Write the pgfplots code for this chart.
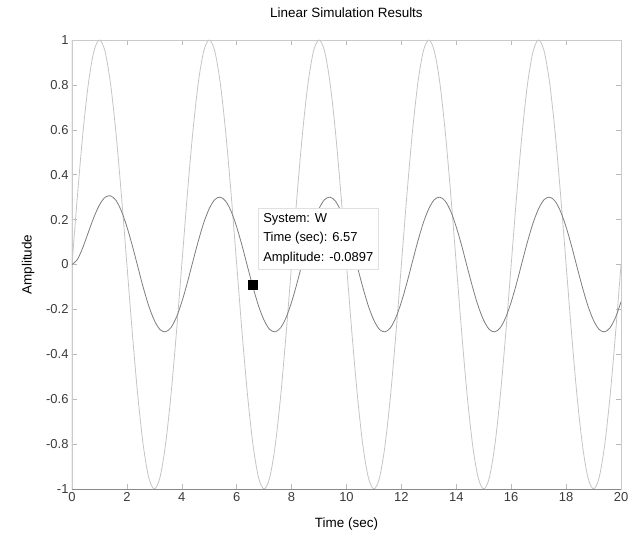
\documentclass[border=0pt]{standalone}
\usepackage{fontspec}
\setmainfont{Liberation Sans}
\usepackage{pgfplots}
\pgfplotsset{compat=1.18}
\usepackage{pgfplotstable}
\definecolor{inGray}{HTML}{C4C4C4}
\definecolor{outGray}{HTML}{7E7E7E}
\definecolor{axGray}{HTML}{8A8A8A}
\definecolor{tickText}{HTML}{3A3A3A}

% t  u (input)  y (response of W)
\pgfplotstableread{
t u y
0.0 0.000 0.000
0.2 0.309 0.023
0.4 0.588 0.077
0.6 0.809 0.145
0.8 0.951 0.211
1.0 1.000 0.265
1.2 0.951 0.299
1.4 0.809 0.306
1.6 0.588 0.286
1.8 0.309 0.238
2.0 0.000 0.168
2.2 -0.309 0.083
2.4 -0.588 -0.011
2.6 -0.809 -0.104
2.8 -0.951 -0.186
3.0 -1.000 -0.249
3.2 -0.951 -0.289
3.4 -0.809 -0.300
3.6 -0.588 -0.282
3.8 -0.309 -0.236
4.0 0.000 -0.167
4.2 0.309 -0.082
4.4 0.588 0.012
4.6 0.809 0.104
4.8 0.951 0.186
5.0 1.000 0.249
5.2 0.951 0.289
5.4 0.809 0.300
5.6 0.588 0.282
5.8 0.309 0.236
6.0 0.000 0.167
6.2 -0.309 0.082
6.4 -0.588 -0.012
6.6 -0.809 -0.104
6.8 -0.951 -0.186
7.0 -1.000 -0.249
7.2 -0.951 -0.289
7.4 -0.809 -0.300
7.6 -0.588 -0.282
7.8 -0.309 -0.236
8.0 0.000 -0.167
8.2 0.309 -0.082
8.4 0.588 0.012
8.6 0.809 0.104
8.8 0.951 0.186
9.0 1.000 0.249
9.2 0.951 0.289
9.4 0.809 0.300
9.6 0.588 0.282
9.8 0.309 0.236
10.0 0.000 0.167
10.2 -0.309 0.082
10.4 -0.588 -0.012
10.6 -0.809 -0.104
10.8 -0.951 -0.186
11.0 -1.000 -0.249
11.2 -0.951 -0.289
11.4 -0.809 -0.300
11.6 -0.588 -0.282
11.8 -0.309 -0.236
12.0 0.000 -0.167
12.2 0.309 -0.082
12.4 0.588 0.012
12.6 0.809 0.104
12.8 0.951 0.186
13.0 1.000 0.249
13.2 0.951 0.289
13.4 0.809 0.300
13.6 0.588 0.282
13.8 0.309 0.236
14.0 0.000 0.167
14.2 -0.309 0.082
14.4 -0.588 -0.012
14.6 -0.809 -0.104
14.8 -0.951 -0.186
15.0 -1.000 -0.249
15.2 -0.951 -0.289
15.4 -0.809 -0.300
15.6 -0.588 -0.282
15.8 -0.309 -0.236
16.0 0.000 -0.167
16.2 0.309 -0.082
16.4 0.588 0.012
16.6 0.809 0.104
16.8 0.951 0.186
17.0 1.000 0.249
17.2 0.951 0.289
17.4 0.809 0.300
17.6 0.588 0.282
17.8 0.309 0.236
18.0 0.000 0.167
18.2 -0.309 0.082
18.4 -0.588 -0.012
18.6 -0.809 -0.104
18.8 -0.951 -0.186
19.0 -1.000 -0.249
19.2 -0.951 -0.289
19.4 -0.809 -0.300
19.6 -0.588 -0.282
19.8 -0.309 -0.236
20.0 0.000 -0.167
}\simdata

\begin{document}
\begin{tikzpicture}
\begin{axis}[
  at={(0,0)}, anchor=south west,
  scale only axis,
  width=549bp, height=449bp,
  xmin=0, xmax=20, ymin=-1, ymax=1,
  xtick={0,2,...,20},
  ytick={-1,-0.8,-0.6,-0.4,-0.2,0,0.2,0.4,0.6,0.8,1},
  tick align=inside,
  major tick length=5bp,
  tick style={draw=axGray!60, line width=0.5bp},
  axis line style={draw=axGray!45, line width=0.6bp},
  /pgf/number format/assume math mode=true,
  tick label style={font=\fontsize{13}{15}\selectfont, text=tickText},
  yticklabel style={/pgf/number format/fixed},
  title={Linear Simulation Results},
  title style={font=\fontsize{13.5}{16}\selectfont, at={(axis description cs:0.5,1)},
    anchor=base, yshift=17bp},
  xlabel={Time (sec)},
  xlabel style={font=\fontsize{13.5}{16}\selectfont, at={(axis description cs:0.5,0)},
    anchor=base, yshift=-38bp},
  ylabel={Amplitude},
  ylabel style={font=\fontsize{13.5}{16}\selectfont,
    at={(axis description cs:-0.0801,0.5)}, anchor=center},
]
  \addplot[inGray, line width=0.8bp, smooth] table[x=t, y=u] {\simdata};
  \addplot[outGray, line width=0.8bp, smooth] table[x=t, y=y] {\simdata};
  \draw[axGray, line width=1bp] (rel axis cs:0,1) -- (rel axis cs:0,0) -- (rel axis cs:1,0);
  \node[anchor=north west, fill=white, draw=black!12, align=left,
        inner xsep=5bp, inner ysep=5bp,
        font=\fontsize{13}{19.5}\selectfont]
    at (axis cs:6.78,0.252)
    {System: W\\Time (sec): 6.57\\Amplitude: -0.0897};
  \addplot[only marks, mark=square*, mark size=4.5bp, black] coordinates {(6.57,-0.0897)};
\end{axis}
\pgfresetboundingbox
\useasboundingbox (-72bp,-47bp) rectangle (560bp,489bp);
\end{tikzpicture}
\end{document}
